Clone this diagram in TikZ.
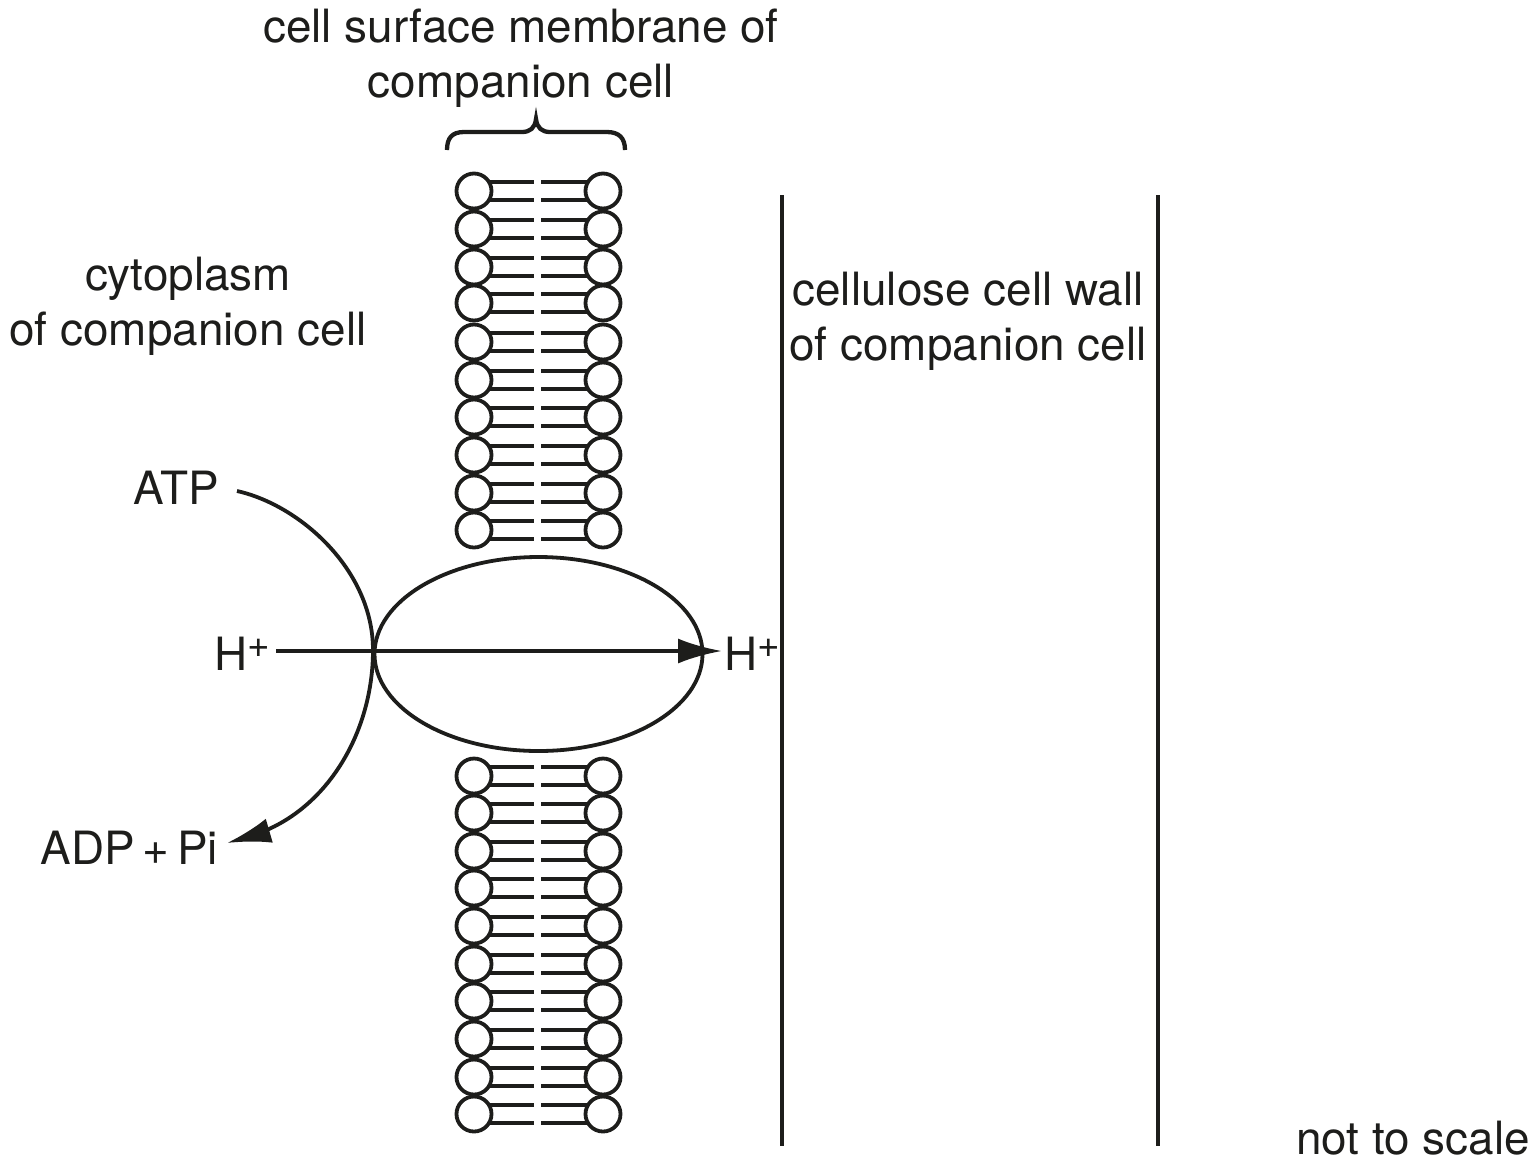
\documentclass[tikz,border=0pt]{standalone}
\usepackage{fontspec}
\setmainfont{TeX Gyre Heros}
\usepackage{xcolor}
\usetikzlibrary{shapes, calc, arrows.meta}
\definecolor{inkBlack}{HTML}{1D1D1B}
\newcommand{\hplus}{H\raisebox{7.5pt}{\fontsize{22}{22}\selectfont +}}

\begin{document}
\begin{tikzpicture}[
	x=0.02cm, y=-0.02cm,
	label/.style={inkBlack, font=\fontsize{26.1}{31.2}\selectfont, align=center},
	line/.style={inkBlack, line width=3.8*0.02cm},
	wall/.style={inkBlack, line width=4*0.02cm},
	head/.style={circle, draw=inkBlack, line width=3.8*0.02cm, fill=white, minimum size=35*0.02cm, inner sep=0pt},
	arrow/.style={line, -{Latex[length=44*0.02cm, width=25*0.02cm]}}
	]

	\useasboundingbox (0, 0) rectangle (1538, 1164);

	% Membrane
	\foreach \y [count=\i] in {191, 229, 267, 303, 342, 380, 417, 455, 493, 530, 776, 813, 851, 888, 926, 964, 1001, 1039, 1077, 1114} {
		\draw[line] (490, \y - 9) -- (534, \y - 9);
		\draw[line] (490, \y + 9) -- (534, \y + 9);
		\draw[line] (541, \y - 9) -- (588, \y - 9);
		\draw[line] (541, \y + 9) -- (588, \y + 9);
		\node [head] (L\i) at (474, \y) {};
		\node [head] (R\i) at (603, \y) {};
	}

	% Brace
	\coordinate (B1) at (447, 150);
	\coordinate (B2) at (625, 150);
	\coordinate (B3) at (536, 119);
	\draw[line, line width=4.3*0.02cm] (B1) .. controls (447, 138) and (452, 132) .. (464, 132) -- (522, 132)
		.. controls (530, 132) and (535, 128) .. (B3)
		.. controls (537, 128) and (542, 132) .. (550, 132) -- (607, 132)
		.. controls (619, 132) and (625, 138) .. (B2);

	% Walls
	\coordinate (W1) at (782, 195);
	\coordinate (W2) at (782, 1146);
	\coordinate (W3) at (1158, 195);
	\coordinate (W4) at (1158, 1146);
	\draw[wall] (W1) -- (W2);
	\draw[wall] (W3) -- (W4);

	% Protein
	\node [draw=inkBlack, ellipse, line width=3.8*0.02cm, minimum width=328*0.02cm, minimum height=194*0.02cm, inner sep=0pt] (P) at (538.5, 654) {};

	% Labels
	\node [label] (surface) at (521, 58) {cell surface membrane of\\companion cell};
	\node [label] (cytoplasm) at (188, 306) {cytoplasm\\of companion cell};
	\node [label] (wallText) at (968, 321) {cellulose cell wall\\of companion cell};
	\node [label, anchor=east] (ATP) at (225, 488) {ATP};
	\node [label, anchor=east] (ADP) at (224, 848) {ADP\,+\,Pi};
	\node [label, anchor=east] (H1) at (276, 654) {\hplus};
	\node [label, anchor=west] (H2) at (718, 654) {\hplus};
	\node [label, anchor=east] (scale) at (1536, 1138) {not to scale};

	% Transport
	\coordinate (H3) at (276, 651);
	\coordinate (H4) at (722, 651);
	\draw[arrow] (H3) -- (H4);

	% Reaction
	\coordinate (A1) at (237, 491);
	\coordinate (A2) at (373, 650);
	\coordinate (A3) at (227, 843);
	\draw[line] (A1) .. controls (300, 505) and (373, 570) .. (A2)
		.. controls (373, 730) and (330, 805) .. (262, 832);
	\draw[line, -{Latex[length=44*0.02cm, width=25*0.02cm]}] (258, 834) -- (A3);
\end{tikzpicture}
\end{document}
